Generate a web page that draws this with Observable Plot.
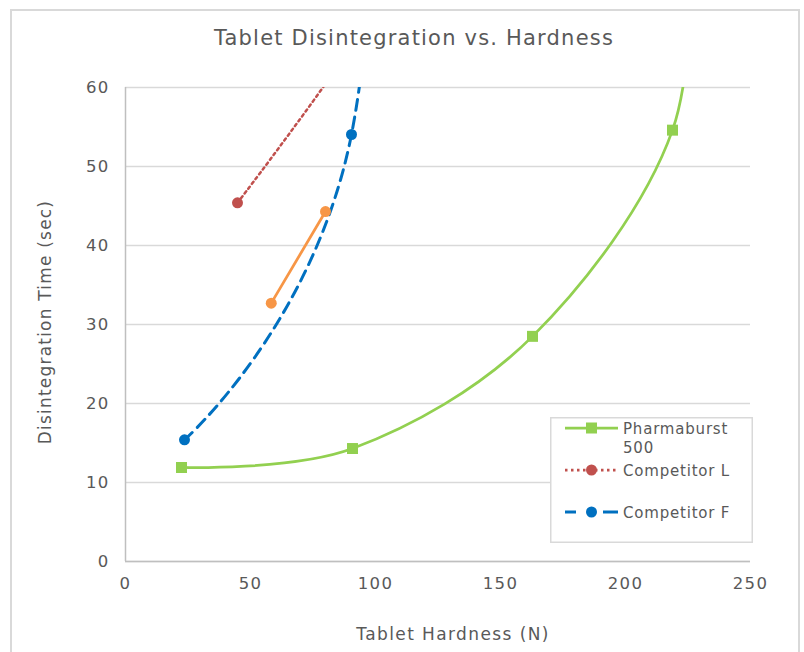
<!DOCTYPE html>
<html><head><meta charset="utf-8">
<script src="https://cdn.jsdelivr.net/npm/d3@7"></script>
<script src="https://cdn.jsdelivr.net/npm/@observablehq/plot@0.6"></script>
<style>
body{margin:0;background:#fff;}
#wrap{position:relative;width:804px;height:652px;overflow:hidden;font-family:"DejaVu Sans",sans-serif;color:#595959;background:#fff;}
#border{position:absolute;left:10px;top:9px;width:790px;height:680px;border:2px solid #d9d9d9;box-sizing:border-box;}
#chart{position:absolute;left:0;top:0;}
#chart svg g[aria-label$="tick label"] text{letter-spacing:1.3px;}
.lbl{position:absolute;white-space:nowrap;color:#595959;}
#title{left:0;width:828px;top:26px;text-align:center;font-size:21px;letter-spacing:1.2px;}
#xlabel{left:0;width:906px;top:624px;text-align:center;font-size:17px;letter-spacing:1.4px;}
#ylabel{left:45px;top:322px;font-size:17px;letter-spacing:1.2px;transform:translate(-50%,-50%) rotate(-90deg);}
#legend{position:absolute;left:550px;top:417px;}
#legend text{letter-spacing:0.8px;}
</style>
</head><body>
<div id="wrap">
  <div id="border"></div>
  <div id="chart"></div>
  <div class="lbl" id="title">Tablet Disintegration vs. Hardness</div>
  <div class="lbl" id="xlabel">Tablet Hardness (N)</div>
  <div class="lbl" id="ylabel">Disintegration Time (sec)</div>
  <div id="legend"></div>
</div>
<script>
// Data (last points of some series lie above the 60 s axis limit and are clipped)
const pharmaX = [22.4, 90.8, 162.8, 218.8, 226];
const pharmaY = [11.9, 14.3, 28.5, 54.6, 85];
const compLX = [44.8, 96, 120];
const compLY = [45.4, 68, 85];
const compFX = [23.6, 90.4, 114];
const compFY = [15.4, 54.05, 160];
const orangeX = [58.3, 80.0];
const orangeY = [32.7, 44.3];
const xTicks = [0, 50, 100, 150, 200, 250];
const yTicks = [0, 10, 20, 30, 40, 50, 60];
const seriesNames = ["Pharmaburst 500", "Competitor L", "Competitor F"];

const toRows = (xs, ys) => xs.map((x, i) => ({x, y: ys[i]}));
const pharma = toRows(pharmaX, pharmaY);
const compL = toRows(compLX, compLY);
const compF = toRows(compFX, compFY);
const orange = toRows(orangeX, orangeY);
const visible = rows => rows.filter(d => d.y <= 60);

const GREEN = "#92d050", RED = "#c0504d", BLUE = "#0070c0", ORANGE = "#f79646";
const smooth = d3.curveCardinal.tension(0);

const plot = Plot.plot({
  width: 804, height: 652,
  marginLeft: 125, marginRight: 54, marginTop: 87, marginBottom: 91,
  style: {fontFamily: "DejaVu Sans, sans-serif", fontSize: "15px", color: "#595959", background: "transparent"},
  x: {domain: [0, 250], label: null},
  y: {domain: [0, 60], label: null},
  marks: [
    Plot.gridY(yTicks, {stroke: "#d9d9d9", strokeOpacity: 1, strokeWidth: 1.5}),
    Plot.ruleX([0], {stroke: "#bfbfbf", strokeWidth: 1.5}),
    Plot.ruleY([0], {stroke: "#bfbfbf", strokeWidth: 1.5}),
    Plot.axisX(xTicks, {tickSize: 0, tickPadding: 16, fill: "#595959", fontSize: 16.5}),
    Plot.axisY(yTicks, {tickSize: 0, tickPadding: 16, fill: "#595959", fontSize: 16.5}),
    Plot.line(pharma, {x: "x", y: "y", stroke: GREEN, strokeWidth: 2.75, curve: smooth, clip: true}),
    Plot.line(compL, {x: "x", y: "y", stroke: RED, strokeWidth: 2.5, strokeDasharray: "2.5,3.5", curve: smooth, clip: true}),
    Plot.line(compF, {x: "x", y: "y", stroke: BLUE, strokeWidth: 3, strokeDasharray: "11,7", curve: smooth, clip: true}),
    Plot.line(orange, {x: "x", y: "y", stroke: ORANGE, strokeWidth: 2.75}),
    Plot.dot(visible(pharma), {x: "x", y: "y", symbol: "square", r: 6.2, fill: GREEN, stroke: "none"}),
    Plot.dot(visible(compL), {x: "x", y: "y", r: 5.5, fill: RED, stroke: "none"}),
    Plot.dot(visible(compF), {x: "x", y: "y", r: 5.5, fill: BLUE, stroke: "none"}),
    Plot.dot(orange, {x: "x", y: "y", r: 5.5, fill: ORANGE, stroke: "none"})
  ]
});
document.getElementById("chart").appendChild(plot);

// Legend
const ns = "http://www.w3.org/2000/svg";
const lg = document.createElementNS(ns, "svg");
lg.setAttribute("width", 203); lg.setAttribute("height", 126);
lg.style.fontFamily = "DejaVu Sans, sans-serif";
const add = (tag, attrs, text) => {
  const e = document.createElementNS(ns, tag);
  for (const k in attrs) e.setAttribute(k, attrs[k]);
  if (text) e.textContent = text;
  lg.appendChild(e); return e;
};
add("rect", {x: 0.75, y: 0.75, width: 201.5, height: 124.5, fill: "#fff", stroke: "#d9d9d9", "stroke-width": 1.5});
const items = [
  {name: seriesNames[0], color: GREEN, dash: null, sym: "square", cy: 11, lines: ["Pharmaburst", "500"]},
  {name: seriesNames[1], color: RED, dash: "2.5,3.5", sym: "circle", cy: 53, lines: ["Competitor L"]},
  {name: seriesNames[2], color: BLUE, dash: "11,7", sym: "circle", cy: 95, lines: ["Competitor F"]}
];
for (const it of items) {
  const ln = add("line", {x1: 15, x2: 68, y1: it.cy, y2: it.cy, stroke: it.color, "stroke-width": it.color === BLUE ? 3 : 2.75});
  if (it.dash) ln.setAttribute("stroke-dasharray", it.dash);
  if (it.color === BLUE) ln.setAttribute("stroke-dasharray", "11,27,15,0");
  if (it.sym === "square") add("rect", {x: 41.5 - 5.5, y: it.cy - 5.5, width: 11, height: 11, fill: it.color});
  else add("circle", {cx: 41.5, cy: it.cy, r: 5.5, fill: it.color});
  it.lines.forEach((t, i) => add("text", {x: 73, y: it.cy + 5.5 + i * 19.5, fill: "#595959", "font-size": 15}, t));
}
document.getElementById("legend").appendChild(lg);
</script>
</body></html>
